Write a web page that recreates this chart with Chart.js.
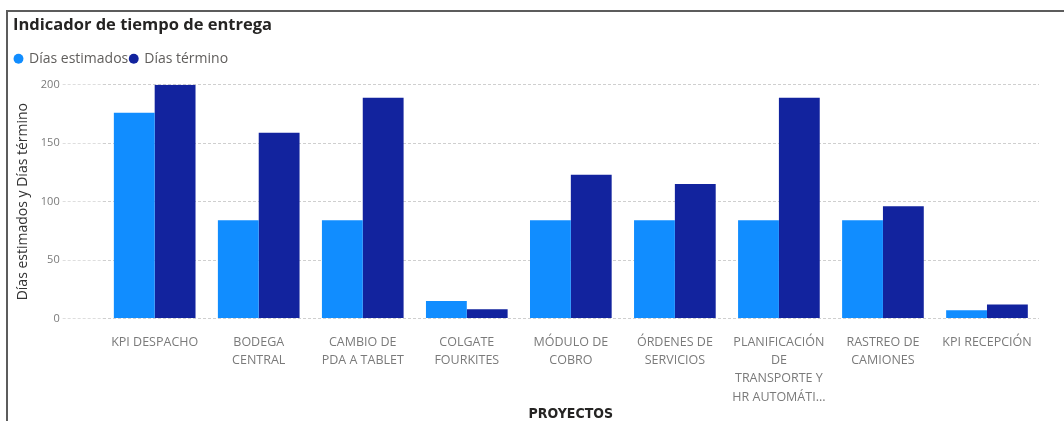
<!DOCTYPE html>
<html>
<head>
<meta charset="utf-8">
<script src="https://cdn.jsdelivr.net/npm/chart.js@4.4.1/dist/chart.umd.min.js"></script>
<style>
  html, body { margin: 0; padding: 0; background: #fff; }
  #wrap { position: relative; width: 1064px; height: 421px; }
  #frame {
    position: absolute; left: 6px; top: 10px; right: 0; bottom: 0;
    border-top: 2px solid #5c5c5c; border-left: 2px solid #5c5c5c;
    pointer-events: none;
  }
</style>
</head>
<body>
<div id="wrap">
  <canvas id="deliveryChart" width="1064" height="421"></canvas>
  <div id="frame"></div>
</div>
<script>
// Project names (multi-line, as shown under the bars)
const projects = [
  ['KPI DESPACHO'],
  ['BODEGA', 'CENTRAL'],
  ['CAMBIO DE', 'PDA A TABLET'],
  ['COLGATE', 'FOURKITES'],
  ['MÓDULO DE', 'COBRO'],
  ['ÓRDENES DE', 'SERVICIOS'],
  ['PLANIFICACIÓN', 'DE', 'TRANSPORTE Y', 'HR AUTOMÁTI...'],
  ['RASTREO DE', 'CAMIONES'],
  ['KPI RECEPCIÓN']
];

const diasEstimados = [176, 84, 84, 15, 84, 84, 84, 84, 7];
const diasTermino = [200, 159, 189, 8, 123, 115, 189, 96, 12];

const yTicks = [0, 50, 100, 150, 200];

const ctx = document.getElementById('deliveryChart');

// leave some room between legend and plot, like the Power BI visual
const legendGap = {
  id: 'legendGap',
  beforeInit: function (chart) {
    const fit = chart.legend.fit;
    chart.legend.fit = function () {
      fit.bind(chart.legend)();
      this.height += 9;
    };
  }
};

new Chart(ctx, {
  type: 'bar',
  data: {
    labels: projects,
    datasets: [
      {
        label: 'Días estimados',
        data: diasEstimados,
        backgroundColor: '#118DFF',
        categoryPercentage: 0.785,
        barPercentage: 1.0
      },
      {
        label: 'Días término',
        data: diasTermino,
        backgroundColor: '#12239E',
        categoryPercentage: 0.785,
        barPercentage: 1.0
      }
    ]
  },
  plugins: [legendGap],
  options: {
    responsive: false,
    animation: false,
    layout: {
      padding: { left: 13, right: 25, top: 0, bottom: 0 }
    },
    plugins: {
      title: {
        display: true,
        text: 'Indicador de tiempo de entrega',
        align: 'start',
        color: '#252423',
        font: { family: 'Open Sans', size: 16.5, weight: 'bold' },
        padding: { top: 15, bottom: 15 }
      },
      legend: {
        display: true,
        align: 'start',
        labels: {
          usePointStyle: true,
          pointStyle: 'circle',
          boxWidth: 7,
          boxHeight: 7,
          padding: 2,
          color: '#605E5C',
          font: { family: 'Open Sans', size: 14 }
        }
      },
      tooltip: { enabled: false }
    },
    scales: {
      x: {
        grid: { display: false, drawTicks: false },
        border: { display: false },
        ticks: {
          color: '#7a7a7a',
          font: { family: 'Open Sans', size: 12.5, lineHeight: 1.45 },
          maxRotation: 0,
          autoSkip: false,
          padding: 15
        },
        title: {
          display: true,
          text: 'PROYECTOS',
          color: '#252423',
          font: { family: 'DejaVu Sans Condensed', size: 14, weight: 'bold', lineHeight: 1 },
          padding: { top: -14, bottom: 0 }
        }
      },
      y: {
        min: 0,
        max: 200,
        afterBuildTicks: function (axis) {
          axis.ticks = yTicks.map(function (v) { return { value: v }; });
        },
        border: { display: false, dash: [3, 2] },
        grid: {
          color: '#cfcfcf',
          lineWidth: 1,
          tickLength: 40,
          drawTicks: true,
          tickColor: '#dedede',
          tickBorderDash: [3, 2]
        },
        ticks: {
          color: '#7a7a7a',
          font: { family: 'Open Sans', size: 11 },
          padding: 3
        },
        title: {
          display: true,
          text: 'Días estimados y Días término',
          color: '#333333',
          font: { family: 'Open Sans', size: 14 },
          padding: { top: 2, bottom: 6 }
        }
      }
    }
  }
});
</script>
</body>
</html>
